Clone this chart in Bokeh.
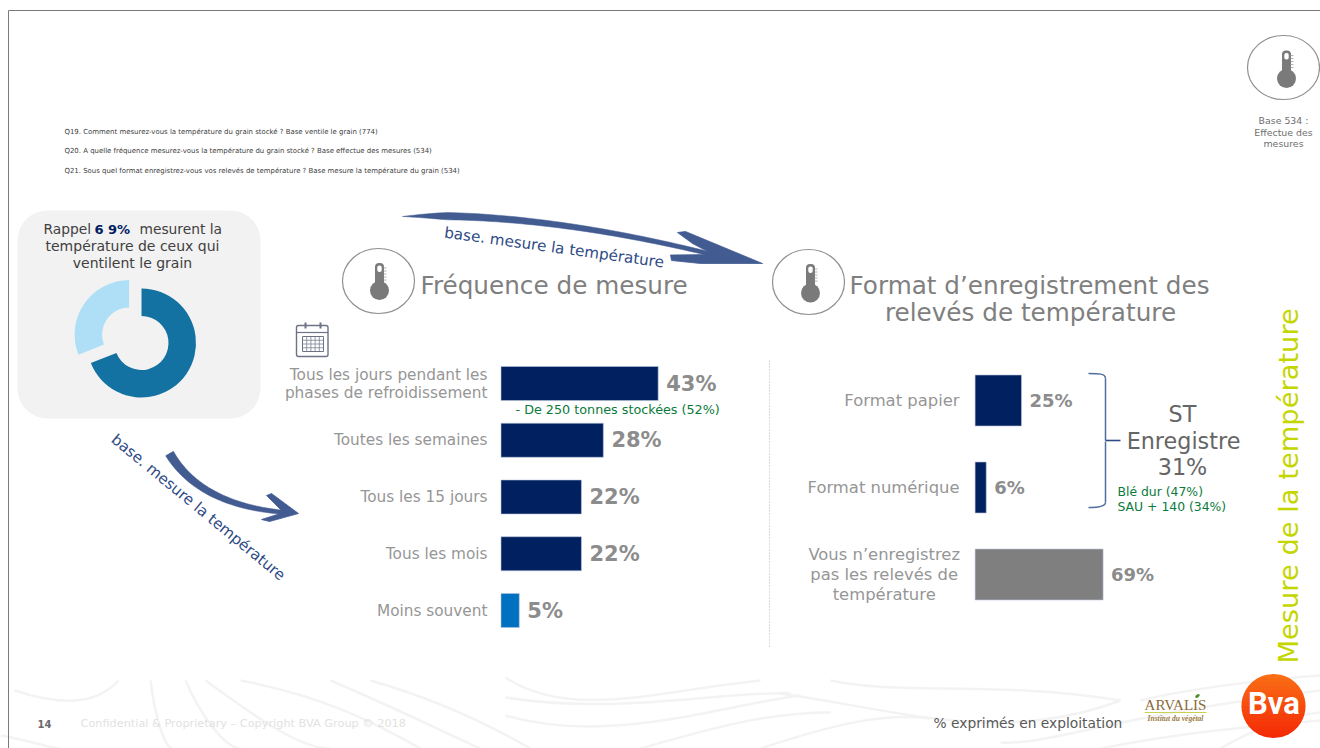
import math

from bokeh.core.properties import value
from bokeh.embed import file_html
from bokeh.models import Range1d
from bokeh.plotting import figure
from bokeh.resources import INLINE

# Survey results
freq_labels = ["Tous les jours pendant les\nphases de refroidissement", "Toutes les semaines",
               "Tous les 15 jours", "Tous les mois", "Moins souvent"]
freq_values = [43, 28, 22, 22, 5]
freq_colors = ["#002060", "#002060", "#002060", "#002060", "#0070c0"]

format_labels = ["Format papier", "Format numérique",
                 "Vous n’enregistrez\npas les relevés de\ntempérature"]
format_values = [25, 6, 69]
format_colors = ["#002060", "#002060", "#7f7f7f"]

donut_values = [69, 31]
donut_colors = ["#1472a2", "#aedff6"]

question_lines = [
    "Q19. Comment mesurez-vous la température du grain stocké ? Base ventile le grain (774)",
    "Q20. A quelle fréquence mesurez-vous la température du grain stocké ? Base effectue des mesures (534)",
    "Q21. Sous quel format enregistrez-vous vos relevés de température ? Base mesure la température du grain (534)",
]

SANS = "DejaVu Sans"
W, H = 1320, 748

p = figure(width=W, height=H, x_range=Range1d(0, W), y_range=Range1d(H, 0),
           output_backend="svg", toolbar_location=None, min_border=0,
           x_axis_location=None, y_axis_location=None)
p.xgrid.visible = False
p.ygrid.visible = False
p.outline_line_color = None
p.background_fill_color = "white"


def scale_for(origin, px_per_unit, size):
    """Range that puts value 0 at pixel `origin` with the given pixels per unit."""
    return (0 - origin) / px_per_unit, (size - origin) / px_per_unit


# Bar scales: percent on x, row index on y
s, e = scale_for(500.5, 3.655, W)
p.extra_x_ranges["freq"] = Range1d(s, e)
s, e = scale_for(974.6, 1.855, W)
p.extra_x_ranges["fmt"] = Range1d(s, e)
s, e = scale_for(383, 56.75, H)
p.extra_y_ranges["freq_row"] = Range1d(e, s)
s, e = scale_for(400, 87, H)
p.extra_y_ranges["fmt_row"] = Range1d(e, s)


def label(x, y, txt, size, color="#7f7f7f", align="left", style="normal", angle=0.0, font=SANS):
    p.text([x], [y], text=[txt], text_font=value(font), text_font_size=f"{size}px",
           text_color=color, text_align=align, text_baseline="middle",
           text_font_style=style, angle=angle)


# Faint wave pattern along the foot of the slide
waves = [
    (14, 690, 60, 705, 95, 705, 118, 680), (150, 680, 155, 720, 165, 748, 172, 748),
    (185, 680, 200, 715, 225, 748, 240, 748), (205, 680, 260, 720, 300, 748, 330, 748),
    (240, 680, 320, 695, 370, 720, 420, 748), (330, 680, 400, 710, 440, 730, 480, 748),
    (370, 680, 440, 700, 490, 725, 530, 748), (0, 735, 30, 740, 50, 748, 60, 748),
    (505, 677, 570, 720, 660, 690, 760, 680), (505, 697, 620, 715, 720, 690, 790, 693),
    (505, 715, 610, 745, 720, 705, 800, 695), (640, 748, 720, 725, 770, 712, 830, 712),
    (760, 748, 830, 725, 880, 712, 930, 718), (830, 680, 900, 695, 1000, 680, 1120, 700),
    (780, 693, 900, 710, 1000, 745, 1120, 700), (1000, 742, 1050, 745, 1110, 715, 1320, 690),
    (1100, 748, 1150, 738, 1200, 730, 1320, 720), (1220, 748, 1250, 730, 1290, 715, 1320, 712),
    (1140, 700, 1180, 690, 1250, 680, 1320, 675),
]
wx0, wy0, wcx0, wcy0, wcx1, wcy1, wx1, wy1 = zip(*waves)
p.bezier(x0=list(wx0), y0=list(wy0), x1=list(wx1), y1=list(wy1), cx0=list(wcx0), cy0=list(wcy0),
         cx1=list(wcx1), cy1=list(wcy1), line_color="#f3f3f3", line_width=2.5)

# Slide frame
p.line([8, 8, W], [H, 10, 10], line_color="#7a7a7a", line_width=1)

# Question wording
for y, line in zip((131.5, 150.5, 170.5), question_lines):
    label(64, y, line, 6.95, color="#404040")

# Recall panel with donut
p.quad(left=17, right=260, top=210, bottom=418, fill_color="#f2f2f2", line_color=None,
       border_radius=30)
label(43, 228.5, "Rappel", 13.8, color="#404040")
label(94, 228.5, "6 9%", 13, color="#002060", style="bold")
label(139, 228.5, "mesurent la", 13.8, color="#404040")
label(132, 245.5, "température de ceux qui", 14, color="#404040", align="center")
label(132, 262.5, "ventilent le grain", 14, color="#404040", align="center")

cumulative = 0.0
total = sum(donut_values)
for i, (v, col) in enumerate(zip(donut_values, donut_colors)):
    start = cumulative / total * 2 * math.pi
    stop = (cumulative + v) / total * 2 * math.pi
    cumulative += v
    cx, cy = 141.0, 342.5
    if i == 1:  # the smaller slice is pulled out of the ring
        mid = (start + stop) / 2
        cx += 15 * math.sin(mid)
        cy -= 15 * math.cos(mid)
    p.annular_wedge([cx], [cy], inner_radius=27, outer_radius=54.5,
                    start_angle=math.pi / 2 - start, end_angle=math.pi / 2 - stop,
                    direction="clock", fill_color=col, line_color=None)


def thermometer(cx, cy, rx, ry, dx, top, bulb):
    """Thermometer pictogram inside a thin ring."""
    p.ellipse([cx], [cy], width=2 * rx, height=2 * ry, fill_color="white", line_color="#8f8f8f",
              line_width=1.2)
    x = cx + dx
    col = "#7a7a7a"
    p.circle([x], [cy + bulb], radius=9.5, fill_color=col, line_color=None)
    p.quad(left=x - 4.5, right=x + 4.5, top=cy + top, bottom=cy + bulb, fill_color=col,
           line_color=None, border_radius=4)
    p.quad(left=x - 2.2, right=x + 2.2, top=cy + top + 2.5, bottom=cy + top + 9, fill_color="white",
           line_color=None, border_radius=2)
    p.segment([x + 4] * 5, [cy + top + 5 + 3 * k for k in range(5)],
              [x + 7] * 5, [cy + top + 5 + 3 * k for k in range(5)], line_color="#a0a0a0",
              line_width=0.8)


thermometer(378, 280.5, 36, 32.5, 1, -18, 9.5)
thermometer(808, 281.5, 36, 32.5, 2, -18, 11)
thermometer(1283, 67, 36, 32, 3, -17, 11)
for y, line in zip((120, 132, 143), ("Base 534 :", "Effectue des", "mesures")):
    label(1283, y, line, 9.4, color="#6f6f6f", align="center")


# Hand-drawn arrows: a tapered curved shaft plus a separate head
def brush(p0, c, p1, width, col="#425c92", n=48):
    """Fill a quadratic curve whose thickness follows width(t)."""
    upper, lower = [], []
    for k in range(n + 1):
        t = k / n
        bx_ = (1 - t) ** 2 * p0[0] + 2 * t * (1 - t) * c[0] + t**2 * p1[0]
        by_ = (1 - t) ** 2 * p0[1] + 2 * t * (1 - t) * c[1] + t**2 * p1[1]
        tx = 2 * (1 - t) * (c[0] - p0[0]) + 2 * t * (p1[0] - c[0])
        ty = 2 * (1 - t) * (c[1] - p0[1]) + 2 * t * (p1[1] - c[1])
        norm = math.hypot(tx, ty)
        hw = width(t) / 2
        upper.append((bx_ + ty / norm * hw, by_ - tx / norm * hw))
        lower.append((bx_ - ty / norm * hw, by_ + tx / norm * hw))
    outline = upper + lower[::-1]
    p.patch([a for a, _ in outline], [b for _, b in outline], fill_color=col, line_color=col,
            line_width=0.5)


def head(points, col="#425c92"):
    xs, ys = zip(*points)
    p.patch(list(xs), list(ys), fill_color=col, line_color=col, line_width=0.8, line_join="round")


brush((402, 216), (537, 211), (712, 254), lambda t: min(t * 50, 8) * (1 - 0.5 * t))
head([(677, 232), (685, 231), (762, 263), (700, 263), (671, 260), (670, 254.5), (713, 254), (692, 243)])
brush((169, 453), (200, 505), (285, 512), lambda t: 9 - 5 * t)
head([(266, 495), (271, 493), (298, 513), (269, 521), (261, 519), (283, 512)])

p.text([444], [232], text=["base. mesure la température"], text_font=value(SANS),
       text_font_size="15.2px", text_color="#2f4b85", text_baseline="middle",
       angle=math.radians(-7.8))
p.text([113], [437], text=["base. mesure la température"], text_font=value(SANS),
       text_font_size="15.1px", text_color="#2f4b85", text_baseline="middle",
       angle=math.radians(-39.5))

# Section headings
label(420, 285, "Fréquence de mesure", 24.7, color="#7f7f7f")
label(1029, 285, "Format d’enregistrement des", 24.7, color="#7f7f7f", align="center")
label(1030, 312, "relevés de température", 24.7, color="#7f7f7f", align="center")

# Calendar pictogram
CAL = "#6d7386"
p.quad(left=296, right=327.5, top=325, bottom=356, fill_color="white", line_color=CAL,
       line_width=1.4, border_radius=2)
p.line([296, 327.5], [332, 332], line_color=CAL, line_width=1.2)
p.segment([305, 320], [322, 322], [305, 320], [328, 328], line_color=CAL, line_width=2)
p.quad(left=302, right=323, top=336, bottom=351, fill_color="white", line_color=CAL, line_width=1)
p.segment([302, 302, 302], [339.75, 343.5, 347.25], [323, 323, 323], [339.75, 343.5, 347.25],
          line_color=CAL, line_width=0.7)
p.segment([306.2, 310.4, 314.6, 318.8], [336] * 4, [306.2, 310.4, 314.6, 318.8], [351] * 4,
          line_color=CAL, line_width=0.7)

# Frequency bars
rows = list(range(len(freq_values)))
p.hbar(y=rows, left=0, right=freq_values, height=0.6, fill_color=freq_colors,
       line_color="#b8c4da", line_width=0.6, x_range_name="freq", y_range_name="freq_row")
for i, (lab, v) in enumerate(zip(freq_labels, freq_values)):
    p.text([v + 2.2], [i], text=[f"{v}%"], text_font=value(SANS), text_font_size="21px",
           text_font_style="bold", text_color="#8c8c8c", text_baseline="middle",
           x_range_name="freq", y_range_name="freq_row")
    p.text([-3.7], [i], text=[lab], text_font=value(SANS), text_font_size="15.3px",
           text_color="#969696", text_align="right", text_baseline="middle", text_line_height=1.0,
           x_range_name="freq", y_range_name="freq_row")
label(515, 409, "- De 250 tonnes stockées (52%)", 12.75, color="#0b7a3b")

# Separator between the two panels
p.line([769, 769], [360, 648], line_color="#b5b5b5", line_width=1, line_dash="1 2")

# Recording format bars
rows = list(range(len(format_values)))
p.hbar(y=rows, left=0, right=format_values, height=0.586, fill_color=format_colors,
       line_color="#b8c4da", line_width=0.6, x_range_name="fmt", y_range_name="fmt_row")
for i, (lab, v) in enumerate(zip(format_labels, format_values)):
    p.text([v + 4.3], [i], text=[f"{v}%"], text_font=value(SANS), text_font_size="18px",
           text_font_style="bold", text_color="#8c8c8c", text_baseline="middle",
           x_range_name="fmt", y_range_name="fmt_row")
    multi = "\n" in lab
    p.text([-49 if multi else -8.4], [i], text=[lab], text_font=value(SANS), text_font_size="16.4px",
           text_color="#969696", text_align="center" if multi else "right", text_baseline="middle",
           text_line_height=1.03, x_range_name="fmt", y_range_name="fmt_row")

# Brace grouping the two recording formats
BR = "#4f6c9f"
p.bezier(x0=[1088, 1105, 1105, 1105], y0=[373, 378, 441, 502], x1=[1105, 1105, 1105, 1088],
         y1=[378, 440, 502, 507], cx0=[1098, 1105, 1105, 1105], cy0=[373, 420, 445, 506],
         cx1=[1105, 1105, 1105, 1098], cy1=[373, 437, 490, 507], line_color=BR, line_width=1.5)
p.line([1105, 1120], [440, 440], line_color="#2f4b85", line_width=1.6)
label(1182, 413.5, "ST", 22.3, color="#666666", align="center")
label(1183, 440.5, "Enregistre", 22.3, color="#666666", align="center")
label(1182, 466.5, "31%", 22.3, color="#666666", align="center")
label(1117, 491, "Blé dur (47%)", 12.4, color="#0b7a3b")
label(1117, 506, "SAU + 140 (34%)", 12.4, color="#0b7a3b")

# Vertical section title
p.text([1287.5], [663], text=["Mesure de la température"], text_font=value(SANS),
       text_font_size="27.3px", text_color="#c4d600", text_baseline="middle", angle=math.pi / 2)

# Footer
label(37, 723, "14", 10, color="#6a6a6a", style="bold")
label(80, 723, "Confidential & Proprietary – Copyright BVA Group ©  2018", 11.3, color="#e2e2e2")
label(933, 722, "% exprimés en exploitation", 13.8, color="#595959")

# ARVALIS mark
label(1175, 704, "ARVALIS", 15, color="#8a6c3a", align="center", font="Liberation Serif")
p.line([1144, 1206], [712, 712], line_color="#c9d24e", line_width=1)
p.ellipse([1197], [695.5], width=5, height=3, angle=0.6, fill_color="#4e8f2c", line_color=None)
label(1175, 718, "Institut du végétal", 7.5, color="#9a7a42", align="center", style="bold italic",
      font="Liberation Serif")

# BVA mark: a disc shaded from orange to red by horizontal slices
bx, by, br = 1273, 705.5, 32
slices = 16
for k in range(slices):
    t = k / (slices - 1)
    colour = "#%02x%02x%02x" % (int(250 - 6 * t), int(110 - 68 * t), int(22 - 16 * t))
    y0 = by - br + 2 * br * k / slices
    y1 = by - br + 2 * br * (k + 1) / slices + 0.5
    ys = [y0 + (min(y1, by + br) - y0) * j / 6 for j in range(7)]
    right = [bx + math.sqrt(max(br**2 - (y - by) ** 2, 0)) for y in ys]
    left = [bx - math.sqrt(max(br**2 - (y - by) ** 2, 0)) for y in ys]
    p.patch(right + left[::-1], ys + ys[::-1], fill_color=colour, line_color=None)
label(1273.5, 703, "Bva", 31, color="white", align="center", font="Roboto", style="bold")

open("out.html", "w").write(file_html(p, INLINE))
